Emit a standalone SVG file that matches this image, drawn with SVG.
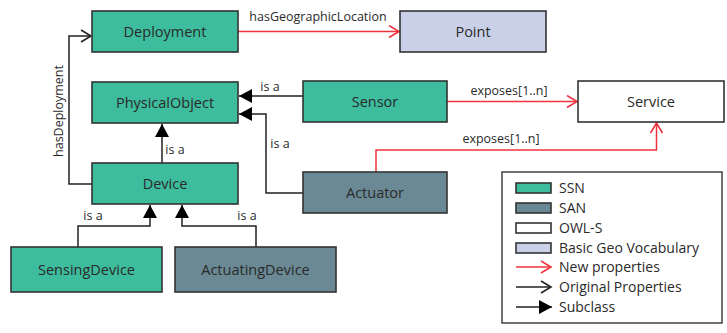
<svg xmlns="http://www.w3.org/2000/svg" width="727" height="333" viewBox="0 0 727 333">
<style>
text{font-family:"Open Sans","Noto Sans","Liberation Sans",sans-serif;fill:#2a2a2a}
.n{stroke:#333;stroke-width:1.6}
.ssn{fill:#3dbd9d}
.san{fill:#6a8995}
.owl{fill:#ffffff}
.geo{fill:#c9d0e8}
.t{font-size:14.5px;text-anchor:middle}
.l{font-size:12.5px}
.lg{font-size:14px}
.k{fill:none;stroke:#222;stroke-width:1.5}
.r{fill:none;stroke:#f0333d;stroke-width:1.5}
</style>
<defs>
<marker id="ob" markerUnits="userSpaceOnUse" markerWidth="14" markerHeight="16" refX="11" refY="7" orient="auto" viewBox="0 0 14 16">
<path d="M1,1 L11,7 L1,13" fill="none" stroke="#222" stroke-width="1.6"/>
</marker>
<marker id="or" markerUnits="userSpaceOnUse" markerWidth="14" markerHeight="16" refX="11" refY="7" orient="auto" viewBox="0 0 14 16">
<path d="M1,1 L11,7 L1,13" fill="none" stroke="#f0333d" stroke-width="1.6"/>
</marker>
<marker id="tri" markerUnits="userSpaceOnUse" markerWidth="14" markerHeight="14" refX="13" refY="7" orient="auto" viewBox="0 0 14 14">
<path d="M0,0 L13,7 L0,14 z" fill="#000"/>
</marker>
</defs>
<g id="connectors">
<path class="r" d="M238,31.5 H399" marker-end="url(#or)"/>
<text class="l" x="318" y="21" text-anchor="middle">hasGeographicLocation</text>
<path class="k" d="M92,184 H69 V36 H91" marker-end="url(#ob)"/>
<text class="l" x="0" y="0" text-anchor="middle" transform="translate(63,111) rotate(-90)">hasDeployment</text>
<path class="k" d="M303,96 H239" marker-end="url(#tri)"/>
<text class="l" x="270" y="91" text-anchor="middle">is a</text>
<path class="k" d="M303,193 H266 V114 H239" marker-end="url(#tri)"/>
<text class="l" x="280" y="148" text-anchor="middle">is a</text>
<path class="k" d="M162,163 V124" marker-end="url(#tri)"/>
<text class="l" x="175" y="154" text-anchor="middle">is a</text>
<path class="k" d="M78,247 V226 H150 V205" marker-end="url(#tri)"/>
<text class="l" x="93" y="220" text-anchor="middle">is a</text>
<path class="k" d="M256,247 V226 H182 V205" marker-end="url(#tri)"/>
<text class="l" x="247" y="220" text-anchor="middle">is a</text>
<path class="r" d="M447,101.5 H577" marker-end="url(#or)"/>
<text class="l" x="509" y="95" text-anchor="middle">exposes[1..n]</text>
<path class="r" d="M376,172 V150 H656.5 V123" marker-end="url(#or)"/>
<text class="l" x="501" y="143" text-anchor="middle">exposes[1..n]</text>
</g>
<g id="Deployment"><rect class="n ssn" x="92" y="11" width="146" height="41"/><text class="t" x="165" y="36.5">Deployment</text></g>
<g id="Point"><rect class="n geo" x="400" y="11" width="146" height="41"/><text class="t" x="473" y="36.5">Point</text></g>
<g id="PhysicalObject"><rect class="n ssn" x="92" y="82" width="146" height="41"/><text class="t" x="165" y="107.5">PhysicalObject</text></g>
<g id="Sensor"><rect class="n ssn" x="303" y="81" width="144" height="41"/><text class="t" x="375" y="106.5">Sensor</text></g>
<g id="Service"><rect class="n owl" x="578" y="81" width="146" height="41"/><text class="t" x="651" y="106.5">Service</text></g>
<g id="Device"><rect class="n ssn" x="92" y="163" width="146" height="41"/><text class="t" x="165" y="188.5">Device</text></g>
<g id="Actuator"><rect class="n san" x="303" y="172" width="144" height="41"/><text class="t" x="375" y="197.5">Actuator</text></g>
<g id="SensingDevice"><rect class="n ssn" x="11" y="247" width="151" height="45"/><text class="t" x="86.5" y="274.5">SensingDevice</text></g>
<g id="ActuatingDevice"><rect class="n san" x="175" y="247" width="161" height="45"/><text class="t" x="255.5" y="274.5">ActuatingDevice</text></g>
<g id="legend">
<rect x="502" y="172" width="220" height="151" fill="#fff" stroke="#333" stroke-width="1.4"/>
<rect class="n ssn" x="516" y="183" width="35" height="10"/><text class="lg" x="559" y="193">SSN</text>
<rect class="n san" x="516" y="203" width="35" height="10"/><text class="lg" x="559" y="213">SAN</text>
<rect class="n owl" x="516" y="223" width="35" height="10"/><text class="lg" x="559" y="233">OWL-S</text>
<rect class="n geo" x="516" y="243" width="35" height="10"/><text class="lg" x="559" y="253">Basic Geo Vocabulary</text>
<path class="r" d="M516,267 H551" marker-end="url(#or)"/><text class="lg" x="559" y="272">New properties</text>
<path class="k" d="M516,287 H551" marker-end="url(#ob)"/><text class="lg" x="559" y="292">Original Properties</text>
<path class="k" d="M516,307 H552" marker-end="url(#tri)"/><text class="lg" x="559" y="312">Subclass</text>
</g>
</svg>
